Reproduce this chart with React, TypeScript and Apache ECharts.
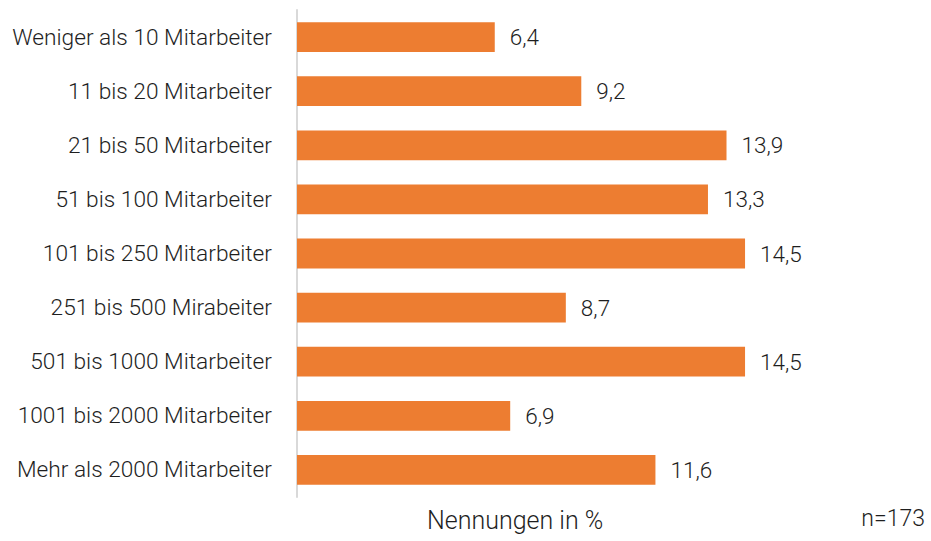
import React, { useEffect, useRef } from "react";
import * as echarts from "echarts";

const categories = [
  "Weniger als 10 Mitarbeiter",
  "11 bis 20 Mitarbeiter",
  "21 bis 50 Mitarbeiter",
  "51 bis 100 Mitarbeiter",
  "101 bis 250 Mitarbeiter",
  "251 bis 500 Mirabeiter",
  "501 bis 1000 Mitarbeiter",
  "1001 bis 2000 Mitarbeiter",
  "Mehr als 2000 Mitarbeiter",
];
const values = [6.4, 9.2, 13.9, 13.3, 14.5, 8.7, 14.5, 6.9, 11.6];
const axisTitle = "Nennungen in %";
const sampleNote = "n=173";

const FONT = "Roboto, 'DejaVu Sans', sans-serif";

export default function App() {
  const ref = useRef<HTMLDivElement>(null);
  useEffect(() => {
    if (!ref.current) return;
    const chart = echarts.init(ref.current, null, { renderer: "svg" });
    chart.setOption({
      animation: false,
      textStyle: { fontFamily: FONT },
      grid: { left: 297, right: 16, top: 10, bottom: 44, containLabel: false },
      xAxis: {
        type: "value",
        min: 0,
        max: 20,
        show: false,
      },
      yAxis: {
        type: "category",
        data: categories,
        inverse: true,
        axisLine: { show: true, lineStyle: { color: "#d9d9d9", width: 2 } },
        axisTick: { show: false },
        axisLabel: {
          color: "#1e1e1e",
          fontSize: 22.7,
          fontWeight: 300,
          margin: 25,
          fontFamily: FONT,
        },
      },
      series: [
        {
          type: "bar",
          data: values,
          barWidth: "55%",
          itemStyle: { color: "#ED7D31" },
          label: {
            show: true,
            position: "right",
            distance: 15,
            color: "#1e1e1e",
            fontSize: 22.5,
            fontWeight: 300,
            fontFamily: FONT,
            formatter: (p: any) => String(p.value).replace(".", ","),
          },
        },
      ],
      graphic: [
        {
          type: "text",
          left: 427,
          top: 508,
          style: { text: axisTitle, fontSize: 25, fontWeight: 300, fill: "#1e1e1e", fontFamily: FONT },
        },
        {
          type: "text",
          right: 6,
          top: 507,
          style: { text: sampleNote, fontSize: 23, fontWeight: 300, fill: "#1e1e1e", fontFamily: FONT },
        },
      ],
    });
    return () => chart.dispose();
  }, []);
  return <div ref={ref} style={{ width: 931, height: 541, position: "absolute", left: 0, top: 0 }} />;
}
